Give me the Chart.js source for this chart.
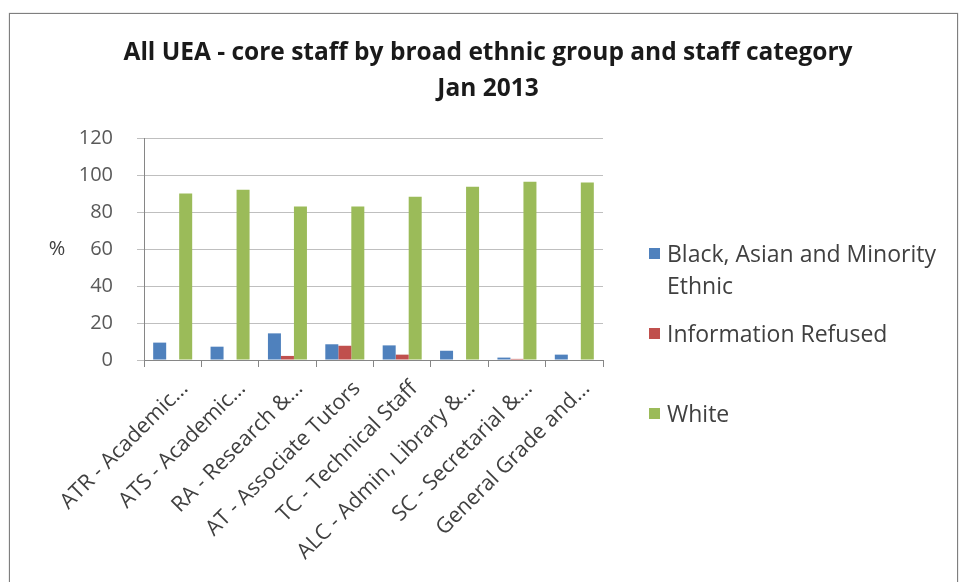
<!DOCTYPE html>
<html>
<head>
<meta charset="utf-8">
<script src="https://cdn.jsdelivr.net/npm/chart.js@4.4.1/dist/chart.umd.min.js"></script>
<style>
  html, body { margin: 0; padding: 0; background: #fff; }
  #wrap { position: relative; width: 960px; height: 582px; overflow: hidden; background: #fff; }
  #frame { position: absolute; left: 9px; top: 13px; width: 947px; height: 620px; border: 1px solid #7f7f7f; box-shadow: 0 0 1px #999; pointer-events: none; }
  #c { position: absolute; left: 0; top: 0; }
  #legend { position: absolute; left: 649px; top: 0; font-family: "Open Sans", Lato, sans-serif; font-size: 23px; color: #404040; }
  .item { position: absolute; left: 0; width: 310px; }
  .sw { position: absolute; left: 0; width: 11px; height: 11px; }
  .tx { position: absolute; left: 18px; line-height: 32px; white-space: nowrap; }
</style>
</head>
<body>
<div id="wrap">
  <div id="frame"></div>
  <canvas id="c" width="960" height="582"></canvas>
  <div id="legend"></div>
</div>
<script>
const categories = [
  'ATR - Academic...',
  'ATS - Academic...',
  'RA - Research &...',
  'AT - Associate Tutors',
  'TC - Technical Staff',
  'ALC - Admin, Library &...',
  'SC - Secretarial &...',
  'General Grade and...'
];
const bameValues = [9.4, 7.2, 14.4, 8.5, 7.9, 5.0, 1.3, 2.9];
const refusedValues = [0, 0, 2.2, 7.7, 2.9, 0, 0.6, 0];
const whiteValues = [90, 92, 83, 83, 88.3, 93.7, 96.4, 96];
const seriesNames = ['Black, Asian and Minority Ethnic', 'Information Refused', 'White'];
const legendLines = [['Black, Asian and Minority', 'Ethnic'], ['Information Refused'], ['White']];
const yTicks = [0, 20, 40, 60, 80, 100, 120];
const titleLines = ['All UEA - core staff by broad ethnic group and staff category', 'Jan 2013'];
const yAxisLabel = '%';

const colors = ['#4F81BD', '#C0504D', '#9BBB59'];
const FONT = '"Open Sans", Lato, sans-serif';

const horizontalYTitle = {
  id: 'horizontalYTitle',
  afterDraw(chart, args, opts) {
    const y = chart.scales.y;
    const ctx = chart.ctx;
    ctx.save();
    ctx.font = opts.font;
    ctx.fillStyle = opts.color;
    ctx.textAlign = 'center';
    ctx.textBaseline = 'middle';
    ctx.fillText(opts.text, opts.x, (y.top + y.bottom) / 2);
    ctx.restore();
  }
};

const chart = new Chart(document.getElementById('c'), {
  type: 'bar',
  data: {
    labels: categories,
    datasets: [
      { label: seriesNames[0], data: bameValues, backgroundColor: colors[0] },
      { label: seriesNames[1], data: refusedValues, backgroundColor: colors[1] },
      { label: seriesNames[2], data: whiteValues, backgroundColor: colors[2] }
    ]
  },
  options: {
    responsive: false,
    animation: false,
    devicePixelRatio: 1,
    layout: { padding: { left: 16, right: 0, top: 0, bottom: 0 } },
    datasets: { bar: { barPercentage: 1.0, categoryPercentage: 0.68 } },
    plugins: {
      legend: { display: false },
      tooltip: { enabled: false },
      title: {
        display: true,
        text: titleLines,
        color: '#1a1a1a',
        font: { family: FONT, size: 24.5, weight: 'bold', lineHeight: 1.47 },
        padding: { top: 35, bottom: 31 }
      },
      horizontalYTitle: { text: yAxisLabel, x: 57, font: '20px ' + FONT, color: '#404040' }
    },
    scales: {
      x: {
        grid: { drawOnChartArea: false, drawTicks: true, tickLength: 7, offset: true, color: '#868686' },
        border: { color: '#868686', width: 1 },
        ticks: {
          autoSkip: false, maxRotation: 45, minRotation: 45, padding: 9, labelOffset: 12,
          color: '#404040', font: { family: FONT, size: 21.5 }
        },
        afterFit(scale) { scale.height = 222; }
      },
      y: {
        min: 0, max: 120,
        afterBuildTicks(scale) { scale.ticks = yTicks.map(v => ({ value: v })); },
        grid: { color: '#bfbfbf', lineWidth: 1, drawTicks: true, tickLength: 7 },
        border: { color: '#868686', width: 1 },
        ticks: {
          padding: 24, color: '#595959',
          font: { family: FONT, size: 20 }
        },
        afterFit(scale) { scale.width = 128; }
      },
      legendSpace: {
        type: 'linear', position: 'right', display: true,
        grid: { display: false, drawTicks: false },
        border: { display: false },
        ticks: { display: false },
        afterFit(scale) { scale.width = 357; }
      }
    }
  },
  plugins: [horizontalYTitle]
});

// HTML legend with wrapped text, built from dataset labels/colors
(function buildLegend() {
  const lg = document.getElementById('legend');
  const tops = [237, 317, 397];
  chart.data.datasets.forEach((ds, i) => {
    const it = document.createElement('div');
    it.className = 'item';
    it.style.top = tops[i] + 'px';
    const sw = document.createElement('div');
    sw.className = 'sw';
    sw.style.background = ds.backgroundColor;
    sw.style.top = '11px';
    const tx = document.createElement('div');
    tx.className = 'tx';
    tx.innerHTML = legendLines[i].join('<br>');
    it.appendChild(sw);
    it.appendChild(tx);
    lg.appendChild(it);
  });
})();
</script>
</body>
</html>
